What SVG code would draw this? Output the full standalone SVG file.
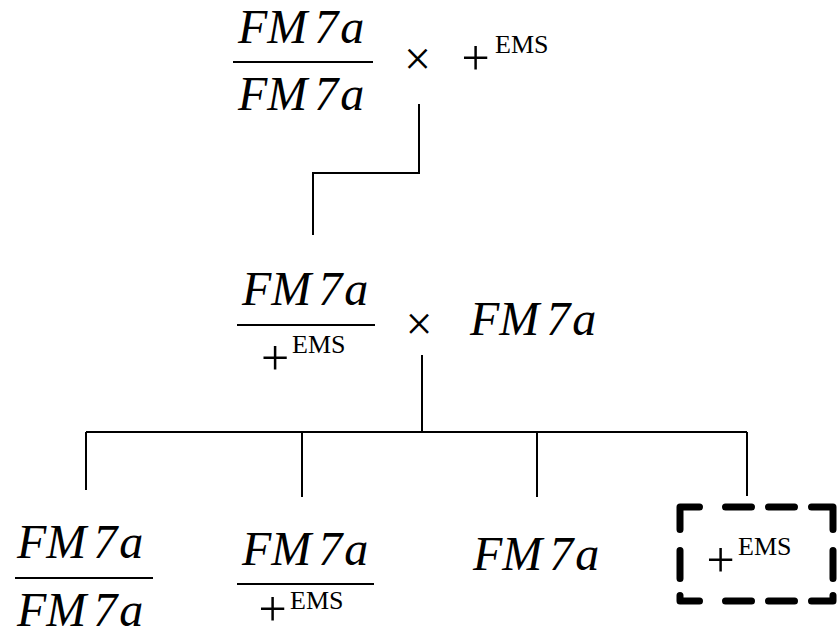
<svg xmlns="http://www.w3.org/2000/svg" width="837" height="637" viewBox="0 0 837 637">
<style>
.m{font-family:"Liberation Serif","Times New Roman",serif;font-style:italic;font-size:48px;fill:#000}
.r{font-family:"Liberation Serif","Times New Roman",serif;font-size:50px;fill:#000}
.x{font-family:"Liberation Serif","Times New Roman",serif;font-size:48px;fill:#000;text-anchor:middle}
.s{font-family:"Liberation Serif","Times New Roman",serif;font-size:26px;fill:#000}
.bar{stroke:#000;stroke-width:2;fill:none}
.conn{stroke:#000;stroke-width:2;fill:none}
.dash{stroke:#000;stroke-width:7;fill:none;stroke-linecap:round;stroke-linejoin:round}
</style>
<rect width="837" height="637" fill="#fff"/>
<g id="connectors">
<path class="conn" d="M419 104 V173 H313 V235"/>
<path class="conn" d="M422 355 V432"/>
<path class="conn" d="M86 432 H747"/>
<path class="conn" d="M86 432 V490 M302 432 V497 M537 432 V497 M747 432 V496"/>
</g>
<g id="root">
<text class="m" x="238" y="43">FM<tspan dx="7">7</tspan><tspan dx="2">a</tspan></text>
<line class="bar" x1="233" y1="62" x2="373" y2="62"/>
<text class="m" x="238" y="110">FM<tspan dx="7">7</tspan><tspan dx="2">a</tspan></text>
<text class="x" x="417.5" y="74.5">×</text>
<text class="r" x="461.5" y="75">+</text>
<text class="s" x="495" y="53">EMS</text>
</g>
<g id="middle">
<text class="m" x="242" y="305">FM<tspan dx="7">7</tspan><tspan dx="2">a</tspan></text>
<line class="bar" x1="237" y1="325" x2="375" y2="325"/>
<text class="r" x="261" y="375">+</text>
<text class="s" x="292" y="353">EMS</text>
<text class="x" x="419" y="340">×</text>
<text class="m" x="470" y="335">FM<tspan dx="7">7</tspan><tspan dx="2">a</tspan></text>
</g>
<g id="leaf1">
<text class="m" x="17" y="558">FM<tspan dx="7">7</tspan><tspan dx="2">a</tspan></text>
<line class="bar" x1="15" y1="578" x2="153" y2="578"/>
<text class="m" x="17" y="626">FM<tspan dx="7">7</tspan><tspan dx="2">a</tspan></text>
</g>
<g id="leaf2">
<text class="m" x="242" y="565">FM<tspan dx="7">7</tspan><tspan dx="2">a</tspan></text>
<line class="bar" x1="237" y1="584" x2="374" y2="584"/>
<text class="r" x="258.5" y="626">+</text>
<text class="s" x="290" y="609">EMS</text>
</g>
<g id="leaf3">
<text class="m" x="473" y="570">FM<tspan dx="7">7</tspan><tspan dx="2">a</tspan></text>
</g>
<g id="leaf4">
<path class="dash" d="M680 529.5 V507 H699.5 M725.5 507 H751.5 M768.5 507 H794.5 M811.5 507 H833 V529.5 M833 550.5 V578.5 M833 595.5 V601 H811.5 M794.5 601 H768.5 M751.5 601 H725.5 M699.5 601 H680 V595.5 M680 550.5 V578.5"/>
<text class="r" x="706.5" y="577">+</text>
<text class="s" x="738" y="555">EMS</text>
</g>
</svg>
